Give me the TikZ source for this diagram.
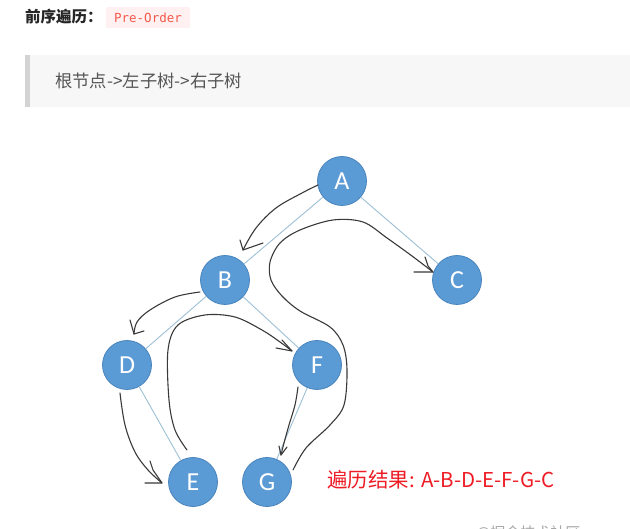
\documentclass[tikz,border=0pt]{standalone}
\usepackage{fontspec}
\setmainfont{Noto Sans CJK SC}
\newfontfamily\cjk{Noto Sans CJK SC}
\newfontfamily\nodefont{Carlito}
\newfontfamily\codefont{DejaVu Sans Mono}
\definecolor{nodefill}{HTML}{5B9BD5}
\definecolor{nodeedge}{HTML}{4A84BC}
\definecolor{edgeblue}{HTML}{9DC0D6}
\definecolor{quotebg}{HTML}{F7F7F7}
\definecolor{quotebar}{HTML}{D3D3D3}
\definecolor{quotetext}{HTML}{555555}
\definecolor{codebg}{HTML}{FFF1F1}
\definecolor{codetext}{HTML}{F5584A}
\definecolor{resred}{HTML}{EE1C25}
\definecolor{pen}{HTML}{3A3A3A}
\tikzset{
  tnode/.style={circle, fill=nodefill, draw=nodeedge, line width=0.8pt, minimum size=49pt, inner sep=0pt,
    text=white, font=\nodefont\fontsize{26}{26}\selectfont},
  tedge/.style={draw=edgeblue, line width=0.9pt},
  hand/.style={draw=pen, line width=1.1pt, line cap=round, line join=round},
}
\begin{document}
\begin{tikzpicture}[x=1pt,y=-1pt]
\useasboundingbox (0,0) rectangle (630,529);
\fill[white] (0,0) rectangle (630,529);
\clip (0,0) rectangle (630,529);
% header
\node[anchor=west, inner sep=0pt, font=\cjk\bfseries\fontsize{15.5}{15.5}\selectfont, text=black!85] (hdr) at (25,17) {前序遍历：};
\fill[codebg, rounded corners=2pt] (106,7) rectangle (190,28);
\node[anchor=center, inner sep=0pt, font=\codefont\fontsize{12.5}{12.5}\selectfont, text=codetext] (code) at (148,17.5) {Pre-Order};
% blockquote
\fill[quotebg] (25,55) rectangle (630,107);
\fill[quotebar] (25,55) rectangle (29.5,107);
\node[anchor=west, inner sep=0pt, font=\cjk\fontsize{17.3}{17.3}\selectfont, text=quotetext] (quote) at (55,81) {根节点->左子树->右子树};
% tree nodes
\node[tnode] (A) at (342,181) {A};
\node[tnode] (B) at (225,280) {B};
\node[tnode] (C) at (457,280) {C};
\node[tnode] (D) at (127,365) {D};
\node[tnode] (F) at (317,365) {F};
\node[tnode] (E) at (193,482) {E};
\node[tnode] (G) at (267,482) {G};
% tree edges
\draw[tedge] (A) -- (B);
\draw[tedge] (A) -- (C);
\draw[tedge] (B) -- (D);
\draw[tedge] (B) -- (F);
\draw[tedge] (D) -- (E);
\draw[tedge] (F) -- (G);
% hand drawn traversal strokes
% A -> B
\draw[hand] plot[smooth, tension=0.6] coordinates {(318,185) (302,193) (276,208) (256,228) (243,250)};
\draw[hand] (240,240) -- (243,250) -- (263,243);
% B -> D
\draw[hand] plot[smooth, tension=0.6] coordinates {(200,292) (175,297) (150,310) (137,322) (134,334)};
\draw[hand] (130,320) -- (134,334) -- (144,331);
% D -> E
\draw[hand] plot[smooth, tension=0.6] coordinates {(120,393) (125,425) (135,452) (148,470) (162,483)};
\draw[hand] (150,461) -- (153,470) -- (162,483) -- (145,483);
% E -> F
\draw[hand] plot[smooth, tension=0.55] coordinates {(187,450) (175,430) (169,400) (168,350) (178,325) (205,315) (235,317) (262,330) (280,342) (292,351)};
\draw[hand] (282,340) -- (292,351) -- (276,348);
% F -> G
\draw[hand] plot[smooth, tension=0.6] coordinates {(298,387) (295,405) (289,425) (284,443) (281,455)};
\draw[hand] (279,446) -- (281,455) -- (287,447);
% G -> C
\draw[hand] plot[smooth, tension=0.55] coordinates {(293,470) (306,448) (330,425) (344,405) (347,370) (343,345) (330,327) (300,311) (282,296) (271,280) (270,262) (280,243) (300,230) (333,220) (363,222) (387,238) (412,256) (433,272)};
\draw[hand] (425,257) -- (428,266) -- (433,272) -- (414,272);
% result text
\node[anchor=west, inner sep=0pt, font=\cjk\fontsize{20.5}{20.5}\selectfont, text=resred] (res) at (327,480) {遍历结果: A-B-D-E-F-G-C};
% watermark (cut off at bottom, as in the reference)
\node[anchor=west, inner sep=0pt, font=\cjk\fontsize{15}{15}\selectfont, text=black!35] (wm) at (476,533) {@掘金技术社区};
\end{tikzpicture}
\end{document}
